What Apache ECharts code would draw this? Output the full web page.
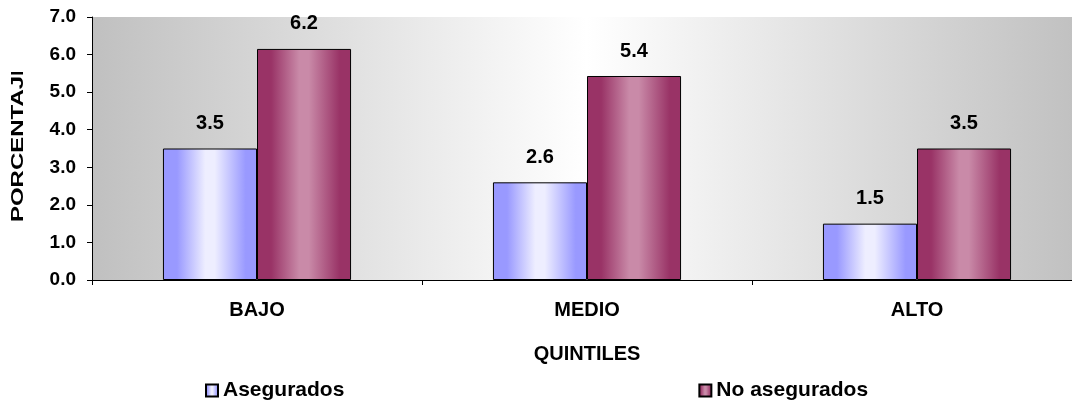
<!DOCTYPE html>
<html>
<head>
<meta charset="utf-8">
<script src="https://cdn.jsdelivr.net/npm/echarts@6/dist/echarts.min.js"></script>
<style>
html,body{margin:0;padding:0;background:#fff;overflow:hidden;}
#c{width:1100px;height:412px;}
</style>
</head>
<body>
<div id="c"></div>
<script>
const categories = ['BAJO', 'MEDIO', 'ALTO'];
const asegurados = [3.5, 2.6, 1.5];
const noAsegurados = [6.15, 5.43, 3.5];
const seriesNames = ['Asegurados', 'No asegurados'];
const yName = 'PORCENTAJE';
const xName = 'QUINTILES';

const FONT = '"Liberation Sans", Arial, sans-serif';

function grad(edge, mid) {
  return new echarts.graphic.LinearGradient(0, 0, 1, 0, [
    {offset: 0, color: edge},
    {offset: 0.15, color: edge},
    {offset: 0.45, color: mid},
    {offset: 0.55, color: mid},
    {offset: 0.88, color: edge},
    {offset: 1, color: edge}
  ]);
}

const chart = echarts.init(document.getElementById('c'), null, {renderer: 'canvas'});
const labelCfg = {
  show: true, position: 'top', distance: 15,
  color: '#000', fontFamily: FONT, fontWeight: 'bold', fontSize: 20,
  formatter: p => p.value.toFixed(1)
};
chart.setOption({
  animation: false,
  backgroundColor: '#fff',
  textStyle: {fontFamily: FONT},
  grid: {
    left: 92, right: 18, top: 17, bottom: 132,
    show: true, borderWidth: 0,
    backgroundColor: new echarts.graphic.LinearGradient(0, 0, 1, 0, [
      {offset: 0, color: '#c0c0c0'},
      {offset: 0.5, color: '#ffffff'},
      {offset: 1, color: '#c0c0c0'}
    ])
  },
  legend: {
    left: 205, top: 380, padding: 0,
    itemWidth: 12, itemHeight: 12, itemGap: 354,
    icon: 'rect',
    textStyle: {fontFamily: FONT, fontWeight: 'bold', fontSize: 21, color: '#000'},
    data: seriesNames
  },
  xAxis: {
    type: 'category', data: categories,
    name: xName, nameLocation: 'middle', nameGap: 64,
    nameTextStyle: {fontFamily: FONT, fontWeight: 'bold', fontSize: 20, color: '#000'},
    axisLine: {lineStyle: {color: '#000', width: 1}},
    axisTick: {show: true, length: 5, lineStyle: {color: '#000'}},
    axisLabel: {margin: 20, color: '#000', fontFamily: FONT, fontWeight: 'bold', fontSize: 20}
  },
  yAxis: {
    type: 'value', min: 0, max: 7, interval: 1,
    axisLine: {show: true, lineStyle: {color: '#000', width: 1}},
    axisTick: {show: true, length: 5, lineStyle: {color: '#000'}},
    splitLine: {show: false},
    axisLabel: {margin: 16, color: '#000', fontFamily: FONT, fontWeight: 'bold', fontSize: 19,
      formatter: v => v.toFixed(1)}
  },
  series: [
    {
      name: seriesNames[0], type: 'bar', data: asegurados,
      barGap: '0%', barCategoryGap: '43%',
      itemStyle: {color: grad('#9999ff', '#eeeeff'), borderColor: '#000', borderWidth: 1},
      label: labelCfg
    },
    {
      name: seriesNames[1], type: 'bar', data: noAsegurados,
      barGap: '0%', barCategoryGap: '43%',
      itemStyle: {color: grad('#993366', '#c98aa8'), borderColor: '#000', borderWidth: 1},
      label: labelCfg
    }
  ],
  graphic: [
    {
      type: 'text', x: 18, y: 141, rotation: Math.PI / 2, scaleX: 1.41,
      style: {
        text: yName, fill: '#000',
        font: 'bold 17px "Liberation Sans", Arial, sans-serif',
        align: 'center', verticalAlign: 'middle',
        textAlign: 'center', textVerticalAlign: 'middle'
      },
      z: 50
    },
    {type: 'rect', x: 0, y: 0, shape: {x: 0, y: 0, width: 40, height: 72}, style: {fill: '#fff'}, z: 100}
  ]
});
</script>
</body>
</html>
